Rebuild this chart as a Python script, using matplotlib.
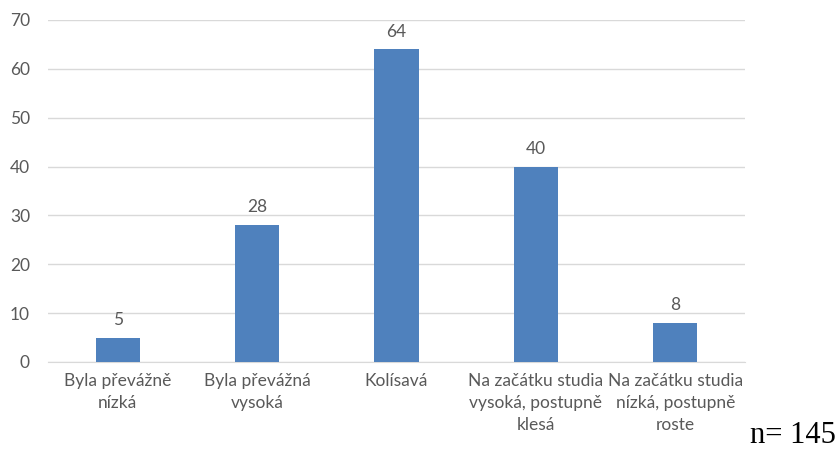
import matplotlib
matplotlib.use("Agg")
from matplotlib import pyplot as plt

categories = [
    "Byla převážně\nnízká",
    "Byla převážná\nvysoká",
    "Kolísavá",
    "Na začátku studia\nvysoká, postupně\nklesá",
    "Na začátku studia\nnízká, postupně\nroste",
]
values = [5, 28, 64, 40, 8]
note = "n= 145"

text_color = "#595959"
bar_color = "#4F81BD"
grid_color = "#D9D9D9"

plt.rcParams['font.family'] = ['Lato', 'DejaVu Sans']

fig = plt.figure(figsize=(8.38, 4.5), dpi=100)
ax = fig.add_axes([0.0573, 0.1956, 0.8317, 0.76])

x = list(range(len(values)))
bars = ax.bar(x, values, width=0.316, color=bar_color, zorder=3)

for xi, v in zip(x, values):
    ax.annotate(str(v), (xi, v), xytext=(0, 7), textcoords="offset points",
                ha="center", va="bottom", fontsize=12.5, color=text_color)

ax.set_xlim(-0.5, len(values) - 0.5)
ax.set_ylim(0, 70)
ax.set_yticks(range(0, 71, 10))
ax.set_xticks(x)
ax.set_xticklabels(categories, fontsize=12.5, color=text_color, linespacing=1.45)
ax.tick_params(axis="y", labelsize=12.5, labelcolor=text_color, length=0, pad=13)
ax.tick_params(axis="x", length=0, pad=8)

ax.yaxis.grid(True, color=grid_color, linewidth=1, zorder=0)
for side in ["top", "right", "left"]:
    ax.spines[side].set_visible(False)
ax.spines["bottom"].set_color(grid_color)

fig.text(0.997, 0.0, note, ha="right", va="bottom", fontsize=22,
         family="Liberation Serif", color="black")

fig.savefig("out.png", dpi=100)
